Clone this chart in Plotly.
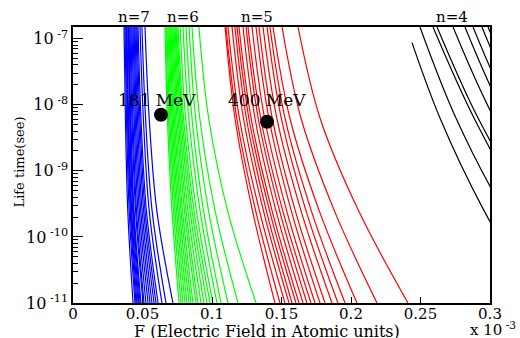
import plotly.graph_objects as go
import math

# lifetime levels (s) at which each curve's field value was read
TAU_LEVELS = [1.5e-7, 6.3e-9, 2.5e-10, 1e-11]

# n=7 (blue) field values (x 10^-3 a.u.) at TAU_LEVELS
N7_F = [
    [0.0367, 0.0377, 0.0394, 0.0432],
    [0.0374, 0.0385, 0.0404, 0.0446],
    [0.0381, 0.0392, 0.0412, 0.0453],
    [0.0385, 0.0396, 0.0417, 0.0460],
    [0.0388, 0.0400, 0.0422, 0.0468],
    [0.0396, 0.0408, 0.0429, 0.0475],
    [0.0399, 0.0412, 0.0434, 0.0482],
    [0.0403, 0.0416, 0.0439, 0.0489],
    [0.0410, 0.0424, 0.0450, 0.0504],
    [0.0417, 0.0431, 0.0457, 0.0511],
    [0.0424, 0.0440, 0.0467, 0.0525],
    [0.0432, 0.0448, 0.0477, 0.0540],
    [0.0439, 0.0456, 0.0487, 0.0554],
    [0.0446, 0.0464, 0.0497, 0.0568],
    [0.0453, 0.0473, 0.0508, 0.0583],
    [0.0460, 0.0481, 0.0518, 0.0597],
    [0.0468, 0.0489, 0.0528, 0.0612],
    [0.0482, 0.0506, 0.0548, 0.0640],
    [0.0496, 0.0522, 0.0569, 0.0669],
    [0.0518, 0.0548, 0.0603, 0.0719],
]

# n=6 (green)
N6_F = [
    [0.0662, 0.0679, 0.0712, 0.0763],
    [0.0669, 0.0687, 0.0723, 0.0777],
    [0.0676, 0.0696, 0.0734, 0.0791],
    [0.0683, 0.0704, 0.0745, 0.0806],
    [0.0691, 0.0713, 0.0755, 0.0820],
    [0.0698, 0.0721, 0.0766, 0.0835],
    [0.0705, 0.0729, 0.0777, 0.0849],
    [0.0712, 0.0738, 0.0788, 0.0863],
    [0.0719, 0.0748, 0.0802, 0.0885],
    [0.0727, 0.0756, 0.0813, 0.0899],
    [0.0734, 0.0766, 0.0827, 0.0921],
    [0.0741, 0.0775, 0.0842, 0.0942],
    [0.0748, 0.0785, 0.0856, 0.0964],
    [0.0755, 0.0795, 0.0870, 0.0986],
    [0.0770, 0.0810, 0.0888, 0.1007],
    [0.0791, 0.0833, 0.0914, 0.1036],
    [0.0813, 0.0856, 0.0939, 0.1065],
    [0.0835, 0.0882, 0.0975, 0.1115],
    [0.0856, 0.0912, 0.1022, 0.1187],
    [0.0906, 0.0976, 0.1112, 0.1317],
]

# n=5 (red)
N5_F = [
    [0.1094, 0.1165, 0.1291, 0.1453],
    [0.1101, 0.1178, 0.1314, 0.1489],
    [0.1115, 0.1197, 0.1341, 0.1525],
    [0.1144, 0.1226, 0.1370, 0.1554],
    [0.1165, 0.1247, 0.1391, 0.1576],
    [0.1180, 0.1265, 0.1414, 0.1604],
    [0.1194, 0.1281, 0.1432, 0.1626],
    [0.1223, 0.1309, 0.1460, 0.1655],
    [0.1245, 0.1332, 0.1486, 0.1683],
    [0.1259, 0.1350, 0.1509, 0.1712],
    [0.1288, 0.1378, 0.1537, 0.1741],
    [0.1317, 0.1409, 0.1570, 0.1777],
    [0.1338, 0.1433, 0.1599, 0.1813],
    [0.1367, 0.1466, 0.1640, 0.1863],
    [0.1396, 0.1498, 0.1676, 0.1906],
    [0.1417, 0.1525, 0.1714, 0.1957],
    [0.1439, 0.1560, 0.1771, 0.2043],
    [0.1504, 0.1640, 0.1880, 0.2187],
    [0.1619, 0.1777, 0.2054, 0.2410],
]

# n=4 (black); first curve starts lower
N4_TAU_FIRST = [8.7e-8, 6.3e-9, 2.5e-10, 1e-11]
N4_F = [
    [0.2439, 0.2640, 0.2957, 0.3352],
    [0.2496, 0.2755, 0.3101, 0.3561],
    [0.2590, 0.2885, 0.3259, 0.3755],
    [0.2619, 0.2914, 0.3302, 0.3791],
    [0.2734, 0.3029, 0.3432, 0.3935],
    [0.2820, 0.3115, 0.3540, 0.4043],
    [0.2878, 0.3173, 0.3597, 0.4115],
    [0.2942, 0.3237, 0.3662, 0.4187],
    [0.2986, 0.3281, 0.3705, 0.4223],
]

DOT_F = [0.0633, 0.1396]
DOT_TAU = [7.05e-9, 5.52e-9]
DOT_LABELS = ["181 MeV", "400 MeV"]
DOT_LABEL_SHIFT = [(-4, 15), (0, 22)]

FAMILY_LABELS = ["n=7", "n=6", "n=5", "n=4"]
FAMILY_LABEL_X = [0.1451, 0.2626, 0.4424, 0.9089]

X_TICKS = [0, 0.05, 0.1, 0.15, 0.2, 0.25, 0.3]
X_TICKTEXT = ["0", "0.05", "0.1", "0.15", "0.2", "0.25", "0.3"]
Y_TICKS = [1e-11, 1e-10, 1e-9, 1e-8, 1e-7]
Y_TICKTEXT = ["10<sup> -11</sup>", "10<sup> -10</sup>", "10<sup> -9</sup>",
              "10<sup> -8</sup>", "10<sup> -7</sup>"]
Y_MINOR = [m * 10.0 ** e for e in range(-11, -7) for m in range(2, 10)]

SERIF = "DejaVu Serif"

fig = go.Figure()

def add_family(curves, color, first_tau=None):
    for i, fx in enumerate(curves):
        taus = first_tau if (first_tau is not None and i == 0) else TAU_LEVELS
        fig.add_trace(go.Scatter(
            x=fx, y=taus, mode="lines",
            line=dict(color=color, width=1.2, shape="spline", smoothing=1.0),
            showlegend=False, hoverinfo="skip"))

add_family(N7_F, "#0000ff")
add_family(N6_F, "#00ff00")
add_family(N5_F, "#ff0000")
add_family(N4_F, "#000000", N4_TAU_FIRST)

fig.add_trace(go.Scatter(
    x=DOT_F, y=DOT_TAU, mode="markers",
    marker=dict(color="black", size=14),
    showlegend=False, hoverinfo="skip", cliponaxis=False))

for f, t, lab, (dx, dy) in zip(DOT_F, DOT_TAU, DOT_LABELS, DOT_LABEL_SHIFT):
    fig.add_annotation(text=lab, x=f, y=math.log10(t), xref="x", yref="y",
                       xshift=dx, yshift=dy, showarrow=False,
                       xanchor="center", yanchor="middle",
                       font=dict(family=SERIF, size=17, color="black"))

for lab, xp in zip(FAMILY_LABELS, FAMILY_LABEL_X):
    fig.add_annotation(text=lab, xref="paper", yref="paper", x=xp, y=1.038,
                       showarrow=False, xanchor="center", yanchor="middle",
                       font=dict(family=SERIF, size=15, color="black"))

fig.add_annotation(text="F (Electric Field in Atomic units)", xref="paper", yref="paper",
                   x=0.4664, y=-0.062, showarrow=False, xanchor="center", yanchor="top",
                   font=dict(family=SERIF, size=16, color="black"))
fig.add_annotation(text="x 10<sup> -3</sup>", xref="paper", yref="paper",
                   x=(468 - 73) / 417, y=-0.095, showarrow=False, xanchor="left",
                   yanchor="middle", font=dict(family=SERIF, size=15, color="black"))
fig.add_annotation(text="Life time(see)", xref="paper", yref="paper",
                   x=-0.1295, y=0.5127, showarrow=False, textangle=-90,
                   xanchor="center", yanchor="middle",
                   font=dict(family=SERIF, size=13, color="black"))

fig.update_xaxes(range=[0, 0.3], tickvals=X_TICKS, ticktext=X_TICKTEXT,
                 ticks="inside", ticklen=6, tickwidth=1, tickcolor="black",
                 showline=True, linecolor="black", linewidth=1.5, mirror=True,
                 showgrid=False, zeroline=False, ticklabelstandoff=-4,
                 tickfont=dict(family=SERIF, size=15, color="black"))
fig.update_yaxes(type="log", range=[-11, math.log10(1.5e-7)],
                 tickvals=Y_TICKS, ticktext=Y_TICKTEXT,
                 ticks="inside", ticklen=10, tickwidth=1, tickcolor="black",
                 minor=dict(tickmode="array", tickvals=Y_MINOR, ticks="inside",
                            ticklen=5, tickcolor="black", showgrid=False),
                 showline=True, linecolor="black", linewidth=1.5, mirror=True,
                 showgrid=False, zeroline=False,
                 tickfont=dict(family=SERIF, size=16, color="black"))

fig.update_layout(width=520, height=338, margin=dict(l=73, r=30, t=27, b=35),
                  paper_bgcolor="white", plot_bgcolor="white")

fig.write_html("out.html")
